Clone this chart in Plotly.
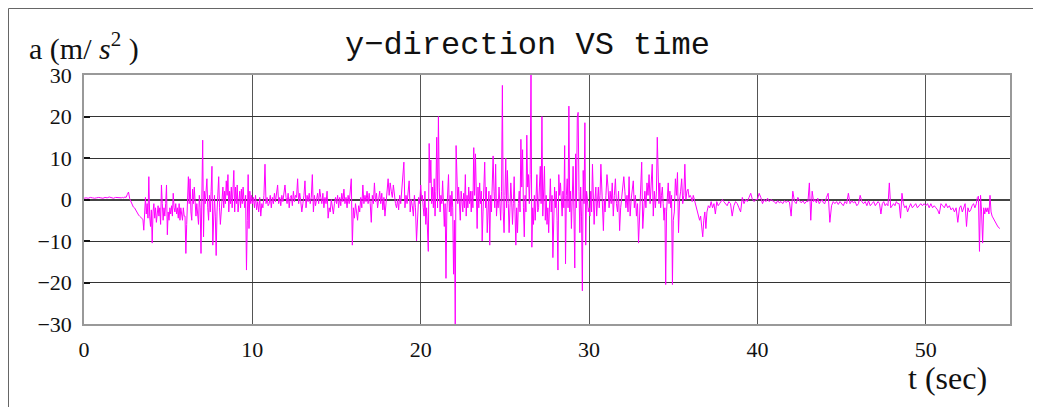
import plotly.graph_objects as go

# ---- acceleration samples (m/s^2), one list per second of record ----
s00 = [0.3, 0.4, 0.3, 0.5, 0.4, 0.3, 0.4, 0.5]
s01 = [0.4, 0.3, 0.5, 0.4, 0.6, 0.4, 0.3, 0.5]
s02 = [0.4, 0.5, 0.3, 0.4, 0.5, 0.4, 0.6, 0.5, 1.2, 1.8, 0.2, -0.6, -1.2, -1.8]
s03 = [-2.0, -2.4, -2.8, -3.2, -3.5, -3.8, -4.0, -4.2, -4.4, -4.6, -4.8, -7.4, -2.0, 0.5, -3.5, -1.0, -4.5, 5.5, -4.0, -6.5]
s04 = [-2.5, -10.5, -3, -1, -4.5, -2, -5.5, -3, -1.5, -4, -2, -6, 3.5, -1, -5, -2, -4, -1, 3.5, -8.5]
s05 = [-3, -5, -2, -3.5, -1.5, -4, 1.5, -2, -3, -1, -3.5, -2, -4.5, -1, -5, -2, -3.5, -5, -2, -4]
s06 = [-4, -13, -6, -2, 5.5, -1, 5, -3, -5, 2.5, -1, 3, -2, -4, -1, -3, -6, 1, -2, -13]
s07 = [10.3, 14.3, -9, 2, -1, 3, 5, -2, -5, 1, -3, 2, 8, -11, -2, 1, -4, -13.5, -3, 3]
s08 = [5.5, -2, -6, -3, 1, 3, -2, 2, -1, 4.5, 1, 6, -3, 2, -1, 3, -2, 4, 7, -3]
s09 = [3, -1, 3.5, -3, 1, 2, -2, 2.5, -1, 3, 0, -2, 1, -17, -5, 6, -7, 2, -1, 1]
s10 = [-1, 0.5, -2, 1, -2.5, -0.5, -3, 0.5, -4, -1, -2, 1, 8.5, -1, 0.5, -1.5]
s11 = [-1, 1, -2, 0.5, -1, 1.5, -0.5, 2, 3.5, -1, 0.5, -1.5, 1, -0.5, 2, 3.5]
s12 = [0.5, -1, 1.5, -2, 0.5, 1, -1.5, 2, -0.5, 1, 0.5, 5, -1, 1.5, -0.5, -3]
s13 = [-1, 1, 4.5, -2, 1, -0.5, 1.5, -1, 0.5, 6, -3, 1, -1.5, 0.5, 1.5, -1]
s14 = [2.5, 0.5, -1, 1.5, -2, 0.5, -1, 2, -4.5, -2, -3, 0, -1.5, -3.5, -1, 0.5]
s15 = [-1, 1, -2, 0.5, -1.5, 1.5, -0.5, 2.5, -1, 0.5, -2, 1, -1, 2, 5, -11]
s16 = [-2, -4.5, -1, -3, -5, -1.5, -3, 0.5, -2, 3.5, -1, 1, -0.5, 2, -1, 1.5]
s17 = [-1, -5.5, 1, -1, 4, -0.5, 1.5, -2, 0.5, 2, -1, 1.5, -2.5, 0.5, -4, -1]
s18 = [2, 5, 1, 4, 2, 0.5, 3.5, 1, -1, -2, 0, -2.5, 1, -1, 2, 5]
s19 = [9, -2, 1, -1, 2, 4.5, -3, 0, -1.5, -4, 1, -2, -10, -3, 0.5, -1]
s20 = [3.5, 0, 1, -2, -4, 2, -6, -2, -6, -12.5, 13.5, 4, 9.5, -1, 3, -2, 5, -4, 2, 15]
s21 = [-2, 20, 3, -3, 1, -1, 4.5, -2, -6.5, -1, -19, -3, 2, 6, -3, 1, -4, 2, -2, -18]
s22 = [-5, -30, 13, 7.5, -1, 3, -2, -5, 2, -1, -3, 1.5, -2, 6, -4, 1, -2, 3, -1, 2]
s23 = [-3, 2, -2, 12.5, 1, 11, -3, -7, 3, -2, 4, -1, 2, -10, -3, 4, 9, -2, 3, -8]
s24 = [-3, 2, -11, 1, -3, 4, 10.5, 2, -2, 8.5, -4, 0, -2, 3, -1, -5, 2, 27.5, -3, -8]
s25 = [1, 10, -2, 7, -1, -8, -2, 4, 0, -6, -1, 5.5, -3, -11, -2, -8, -1, 2, -3, 14.5]
s26 = [3, 12, -2, -9, 1, -3, 15.5, 3, 6, -1, 6, 30, -11.5, -2, -6, 1, -5, 2, 6, -3]
s27 = [-2, 3, 8, -1, 20, -4, 2, 8, -5, 1, -6, -2, -8, -1, 5, -3, 1, -14, -1, 3]
s28 = [-2, 2, -5, -17, 6, 1, 4, -1, -4, 2, -2, 13, -15.5, 1, 5, -2, 22.5, -3, 2, -7]
s29 = [-1, 8, -3, -16.5, 11, -2, 20, 21, 2, -8, 3, -4, -22, 7, -1, 18.5, -11, 2, 0, -3]
s30 = [-2, -4, 2, -3, 8.5, 1, -6, 0, 3, -4, -1, 3, -2, 1, 8.5, 2, -3, -7.5, 0, -3]
s31 = [1, 6, 3, -2, 2, -1, 4, -4, 1, 5, -1, -3, 2, -7.5, -2, 1]
s32 = [2, 5.5, 2, -2, 1, -3, 5.5, -4, 0, 3, 4.5, -2, 1, -4, -1, -10.5]
s33 = [-3, 6, 9, -7, -1, 2, -2, 4, 1, 6, -1, 6, 8.5, -4, 2, -2]
s34 = [2, 15, 2, -1, 4, -2, 1, 3, -1, -5, -2, -20.5, -3, 2, 4, -1, 2, -2, 1, -20.5]
s35 = [-5, -3, 5, 1, 6.5, -8, 0, 2, 5, -1, 1, 8.5, 0, 2, 2.5, 0.5]
s36 = [1, 0.5, -0.5, 1, 0, -1, -2, -3, -4.5, -5, -4, -7, -9, -5, -3, -7]
s37 = [-3, -1.5, -2, -0.5, -2, -1, -3.5, -0.5, -1.5, -1, -0.5, 0]
s38 = [-0.5, -1, -1.5, -0.5, -1, -4, -1.5, -0.5, -1, -2]
s39 = [-3, 0.5, -1, 0, -0.5, 0.5, 1.5, 0, -0.5, 0]
s40 = [0, 1.5, 0.5, -1, 0, -0.5, 0.3, -0.5, 0, -0.3]
s41 = [-0.5, -1, -0.3, -0.8, -0.5, -1, -0.3, -0.7, -0.4, -0.6]
s42 = [-4, 2, -0.5, -1, 0.5, -0.3, -0.8, -0.3, -1, -0.5]
s43 = [-0.5, 4, -5, 2, -0.5, 0, -0.8, 0.3, -1, -0.5, 0, -0.8]
s44 = [-1, 0.5, 1.5, -5.5, -1.5, -0.5, -1, -0.5, -1.2, -0.5]
s45 = [-1, -1.5, -0.5, -1, 1.5, -1, -0.3, -0.8, -0.5, -1.5]
s46 = [-1, 1, -0.5, -1, -0.5, -1.5, -0.3, -1.5, -1, -0.5]
s47 = [-1.5, -1, -0.5, -1, -3.5, -1, -0.5, -1.5, -1, -1.5, 4, -2]
s48 = [-1.5, -1, -1.5, -0.5, -1, -1, -4.5, 1.5, -1, -2, -1.5, -3]
s49 = [-2, -1, -2, -1.5, -1, -2, -1.5, -1, -1.5, -1]
s50 = [-1.5, -1, -2, -1, -2, -1.5, -2, -2.5, -3.5, -1]
s51 = [-1.5, -2, -1, -2, -1.5, -2.5, -2, -3, -2, -5.5]
s52 = [-2, -1.5, -3, -2, -1, -6.5, -2, -3, -2.5, -1.5, -1, -2]
s53 = [-1, 0.5, 0.8, -12.5, 1, -3, -10.5, -2, -3.5, -2, -3, -2, -3.5, 1, -3, -4]
s54 = [-4.5, -5, -5.5, -6, -6.3, -6.6, -6.8, -7]   # spans 54.0 - 54.4 s
record_end = 54.4

seconds = [s00, s01, s02, s03, s04, s05, s06, s07, s08, s09,
           s10, s11, s12, s13, s14, s15, s16, s17, s18, s19,
           s20, s21, s22, s23, s24, s25, s26, s27, s28, s29,
           s30, s31, s32, s33, s34, s35, s36, s37, s38, s39,
           s40, s41, s42, s43, s44, s45, s46, s47, s48, s49,
           s50, s51, s52, s53, s54]

x_ticks = [0, 10, 20, 30, 40, 50]
y_ticks = [-30, -20, -10, 0, 10, 20, 30]

t, a = [], []
for k, seg in enumerate(seconds):
    n = len(seg)
    if k == len(seconds) - 1:
        span = record_end - k
        for i, v in enumerate(seg):
            t.append(k + span * i / (n - 1))
            a.append(v)
    else:
        for i, v in enumerate(seg):
            t.append(k + i / n)
            a.append(v)

fig = go.Figure()
fig.add_trace(go.Scatter(x=t, y=a, mode="lines",
                         line=dict(color="#FF00FF", width=1),
                         hoverinfo="skip", showlegend=False))

# the page body adds an 8 px margin; layout is expressed in page pixels
OFF = 8
W, H = 1041 - OFF, 407 - OFF
L, R, T, B = 84 - OFF, 1010 - OFF, 75 - OFF, 324 - OFF


def px(xp):
    return (xp - OFF - L) / (R - L)


def py(yp):
    return (B - (yp - OFF)) / (B - T)


serif = "Liberation Serif, Times New Roman, serif"

fig.update_layout(
    width=W, height=H,
    margin=dict(l=L, r=W - R, t=T, b=H - B),
    paper_bgcolor="white", plot_bgcolor="white",
    xaxis=dict(range=[0, 55], tickvals=x_ticks, showgrid=True,
               gridcolor="#555555", gridwidth=1.2, zeroline=False,
               showline=True, linecolor="#999999", linewidth=1.5, mirror=True,
               ticks="", tickfont=dict(family=serif, size=22, color="#111"),
               ticklabelstandoff=5),
    yaxis=dict(range=[-30, 30], tickvals=y_ticks, showgrid=True,
               gridcolor="#333333", gridwidth=1.2, zeroline=True,
               zerolinecolor="#444444", zerolinewidth=1.5,
               showline=True, linecolor="#999999", linewidth=1.5, mirror=True,
               ticks="inside", ticklen=6, tickcolor="#111", tickwidth=1.5,
               tickfont=dict(family=serif, size=22, color="#111"),
               ticklabelstandoff=6),
    annotations=[
        dict(text="y\u2212direction VS time", xref="paper", yref="paper",
             x=px(527), y=py(45), xanchor="center", yanchor="middle",
             showarrow=False,
             font=dict(family="Liberation Mono, monospace", size=32, color="#111")),
        dict(text="a (m/ <i>s</i><sup>2</sup> )", xref="paper", yref="paper",
             x=px(27), y=py(47), xanchor="left", yanchor="middle",
             showarrow=False, font=dict(family=serif, size=30, color="#111")),
        dict(text="t (sec)", xref="paper", yref="paper",
             x=px(989), y=py(378), xanchor="right", yanchor="middle",
             showarrow=False, font=dict(family=serif, size=32, color="#111")),
    ],
    shapes=[
        dict(type="rect", xref="paper", yref="paper",
             x0=px(8.5), x1=px(1038.5), y0=py(420), y1=py(8.5),
             line=dict(color="#666666", width=1), fillcolor="rgba(0,0,0,0)",
             layer="below"),
    ],
)

fig.write_html("out.html")
